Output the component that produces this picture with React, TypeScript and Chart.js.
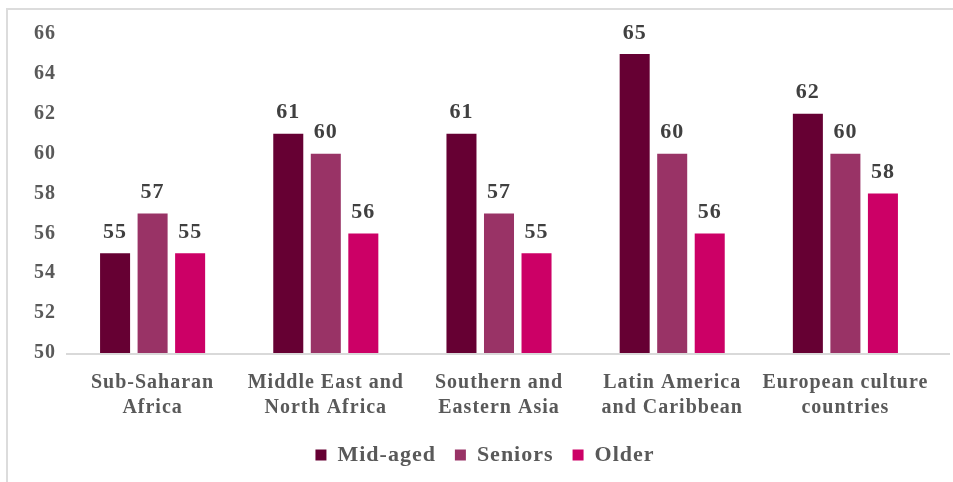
import React, { useEffect, useRef } from "react";
import { Chart, registerables } from "chart.js";

Chart.register(...registerables);

const categories: string[][] = [
  ["Sub-Saharan", "Africa"],
  ["Middle East and", "North Africa"],
  ["Southern and", "Eastern Asia"],
  ["Latin America", "and Caribbean"],
  ["European culture", "countries"],
];
const midAged = [55, 61, 61, 65, 62];
const seniors = [57, 60, 57, 60, 60];
const older = [55, 56, 55, 56, 58];
const yTicks = [50, 52, 54, 56, 58, 60, 62, 64, 66];

const FONT = "'Liberation Serif', 'Times New Roman', serif";

const spacing = {
  id: "spacing",
  beforeLayout(chart: any) {
    chart.ctx.letterSpacing = "1px";
  },
  afterLayout(chart: any) {
    if (chart.legend) {
      chart.legend.left += 19;
      chart.legend.right += 19;
    }
  },
  beforeDraw(chart: any) {
    chart.ctx.letterSpacing = "1px";
  },
};

const axisLine = {
  id: "axisLine",
  beforeDatasetsDraw(chart: any) {
    const ctx = chart.ctx;
    const a = chart.chartArea;
    ctx.save();
    ctx.strokeStyle = "#d9d9d9";
    ctx.lineWidth = 2;
    ctx.beginPath();
    ctx.moveTo(a.left, a.bottom + 1);
    ctx.lineTo(chart.width - 3, a.bottom + 1);
    ctx.stroke();
    ctx.restore();
  },
};

const valueLabels = {
  id: "valueLabels",
  afterDatasetsDraw(chart: any) {
    const ctx = chart.ctx;
    ctx.save();
    ctx.letterSpacing = "1px";
    ctx.font = `bold 22px ${FONT}`;
    ctx.fillStyle = "#404040";
    ctx.textAlign = "center";
    ctx.textBaseline = "bottom";
    chart.data.datasets.forEach((ds: any, i: number) => {
      const meta = chart.getDatasetMeta(i);
      meta.data.forEach((el: any, j: number) => {
        ctx.fillText(String(ds.data[j]), el.x, el.y - 10);
      });
    });
    ctx.restore();
  },
};

export default function App() {
  const ref = useRef<HTMLCanvasElement>(null);
  useEffect(() => {
    if (!ref.current) return;
    const chart = new Chart(ref.current, {
      type: "bar",
      data: {
        labels: categories,
        datasets: [
          { label: "Mid-aged", data: midAged, backgroundColor: "#660033" },
          { label: "Seniors", data: seniors, backgroundColor: "#993366" },
          { label: "Older", data: older, backgroundColor: "#CC0066" },
        ],
      },
      options: {
        animation: false,
        responsive: false,
        maintainAspectRatio: false,
        datasets: { bar: { categoryPercentage: 0.65, barPercentage: 0.8 } },
        layout: { padding: { left: 0, right: 21, top: 34, bottom: 6 } },
        plugins: {
          tooltip: { enabled: false },
          legend: {
            position: "bottom",
            labels: {
              boxWidth: 11,
              boxHeight: 11,
              padding: 19,
              color: "#595959",
              font: { family: FONT, size: 22, weight: "bold" },
            },
          },
        },
        scales: {
          x: {
            grid: { display: false },
            border: { display: false },
            ticks: {
              color: "#595959",
              padding: 9,
              maxRotation: 0,
              font: { family: FONT, size: 20, weight: "bold", lineHeight: 1.25 },
            },
            afterFit: (s: any) => {
              s.height = 72;
            },
          },
          y: {
            min: 50,
            max: 66,
            afterBuildTicks: (s: any) => {
              s.ticks = yTicks.map((v) => ({ value: v }));
            },
            grid: { display: false, drawTicks: false },
            border: { display: false },
            ticks: {
              color: "#595959",
              padding: 10,
              font: { family: FONT, size: 20, weight: "bold" },
            },
            afterFit: (s: any) => {
              s.width = 66;
            },
          },
        },
      },
      plugins: [spacing, axisLine, valueLabels],
    } as any);
    return () => chart.destroy();
  }, []);
  return (
    <div
      style={{
        position: "fixed",
        left: 0,
        top: 0,
        width: 953,
        height: 482,
        background: "#fff",
      }}
    >
      <canvas ref={ref} width={953} height={482} style={{ position: "absolute", left: 0, top: 0 }} />
      <div
        style={{
          position: "absolute",
          left: 6,
          top: 8,
          right: 0,
          bottom: 0,
          borderLeft: "2px solid #dcdcdc",
          borderTop: "2px solid #dcdcdc",
          pointerEvents: "none",
        }}
      />
    </div>
  );
}
